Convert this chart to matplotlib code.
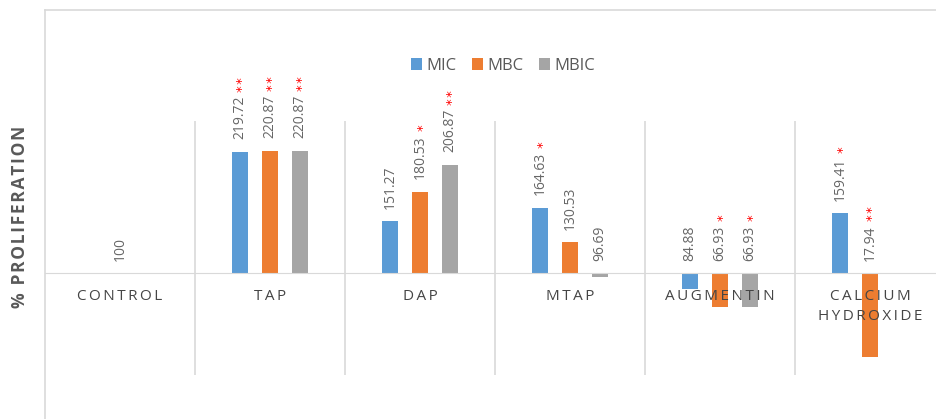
import numpy as np
import matplotlib
matplotlib.use("Agg")
import matplotlib.pyplot as plt
from matplotlib.lines import Line2D

categories = ["CONTROL", "TAP", "DAP", "MTAP", "AUGMENTIN", "CALCIUM\nHYDROXIDE"]
series = ["MIC", "MBC", "MBIC"]
mic = [np.nan, 219.72, 151.27, 164.63, 84.88, 159.41]
mbc = [100, 220.87, 180.53, 130.53, 66.93, 17.94]
mbic = [np.nan, 220.87, 206.87, 96.69, 66.93, np.nan]
mic_stars = ["", "**", "", "*", "", "*"]
mbc_stars = ["", "**", "*", "", "*", "**"]
mbic_stars = ["", "**", "**", "", "*", ""]

colors = ["#5b9bd5", "#ed7d31", "#a5a5a5"]
grid_col = "#d9d9d9"
text_col = "#595959"
THIN = "\u2009"
HS = "\u200a"

plt.rcParams["font.family"] = ["Open Sans", "DejaVu Sans"]

fig = plt.figure(figsize=(9.37, 4.19), dpi=100)
ax = fig.add_axes([45 / 937, 44 / 419, 900 / 937, 254 / 419])
ax.set_axisbelow(False)

x = np.arange(len(categories))
w = 0.107
offsets = [-0.2, 0, 0.2]
base = 100

for vals, stars, off, col, name in zip([mic, mbc, mbic], [mic_stars, mbc_stars, mbic_stars],
                                       offsets, colors, series):
    vals = np.array(vals, dtype=float)
    ax.bar(x + off, vals - base, w, bottom=base, color=col, label=name, zorder=2)
    for xi, v, s in zip(x + off, vals, stars):
        if np.isnan(v):
            continue
        lab = ax.annotate(f"{v:g}", xy=(xi, max(v, base)), xytext=(0, 9),
                          textcoords="offset points", rotation=90,
                          ha="center", va="bottom", fontsize=10, color="#666666")
        if s:
            ax.annotate(HS.join(s), xy=(0.5, 1.0), xycoords=lab, xytext=(2, 3),
                        textcoords="offset points", rotation=90,
                        ha="center", va="bottom", fontsize=9.5, color="red",
                        family=["DejaVu Sans"])

ax.set_xlim(-0.5, len(categories) - 0.5)
ax.set_ylim(0, 250)
ax.set_yticks([])
for sp in ["left", "top", "right"]:
    ax.spines[sp].set_visible(False)
ax.spines["bottom"].set_position(("data", base))
ax.spines["bottom"].set_color(grid_col)

spaced = ["\n".join(THIN.join(line) for line in c.split("\n")) for c in categories]
ax.set_xticks(x)
ax.set_xticklabels(spaced, fontsize=11, color="#454545", linespacing=1.5)
ax.tick_params(axis="x", length=0, pad=11)
ax.set_xticks(np.arange(0.5, len(categories) - 0.5, 1), minor=True)
ax.tick_params(axis="x", which="minor", length=0)
ax.grid(axis="x", which="minor", color=grid_col, linewidth=1.2)

ax.legend(loc="center", bbox_to_anchor=(0.509, 1.217), ncol=3, frameon=False,
          fontsize=12, handlelength=0.65, handleheight=0.65, handletextpad=0.3,
          columnspacing=0.9, labelcolor=text_col)

fig.text(20 / 937, 1 - 217 / 419, HS.join("% PROLIFERATION"), rotation=90,
         ha="center", va="center", fontsize=12.5, fontweight="bold", color=text_col)

fig.add_artist(Line2D([45 / 937, 45 / 937], [0, 1 - 10 / 419], color=grid_col, lw=1.2,
                      transform=fig.transFigure))
fig.add_artist(Line2D([45 / 937, 1], [1 - 10 / 419, 1 - 10 / 419], color=grid_col, lw=1.2,
                      transform=fig.transFigure))

fig.savefig("out.png", dpi=100)
